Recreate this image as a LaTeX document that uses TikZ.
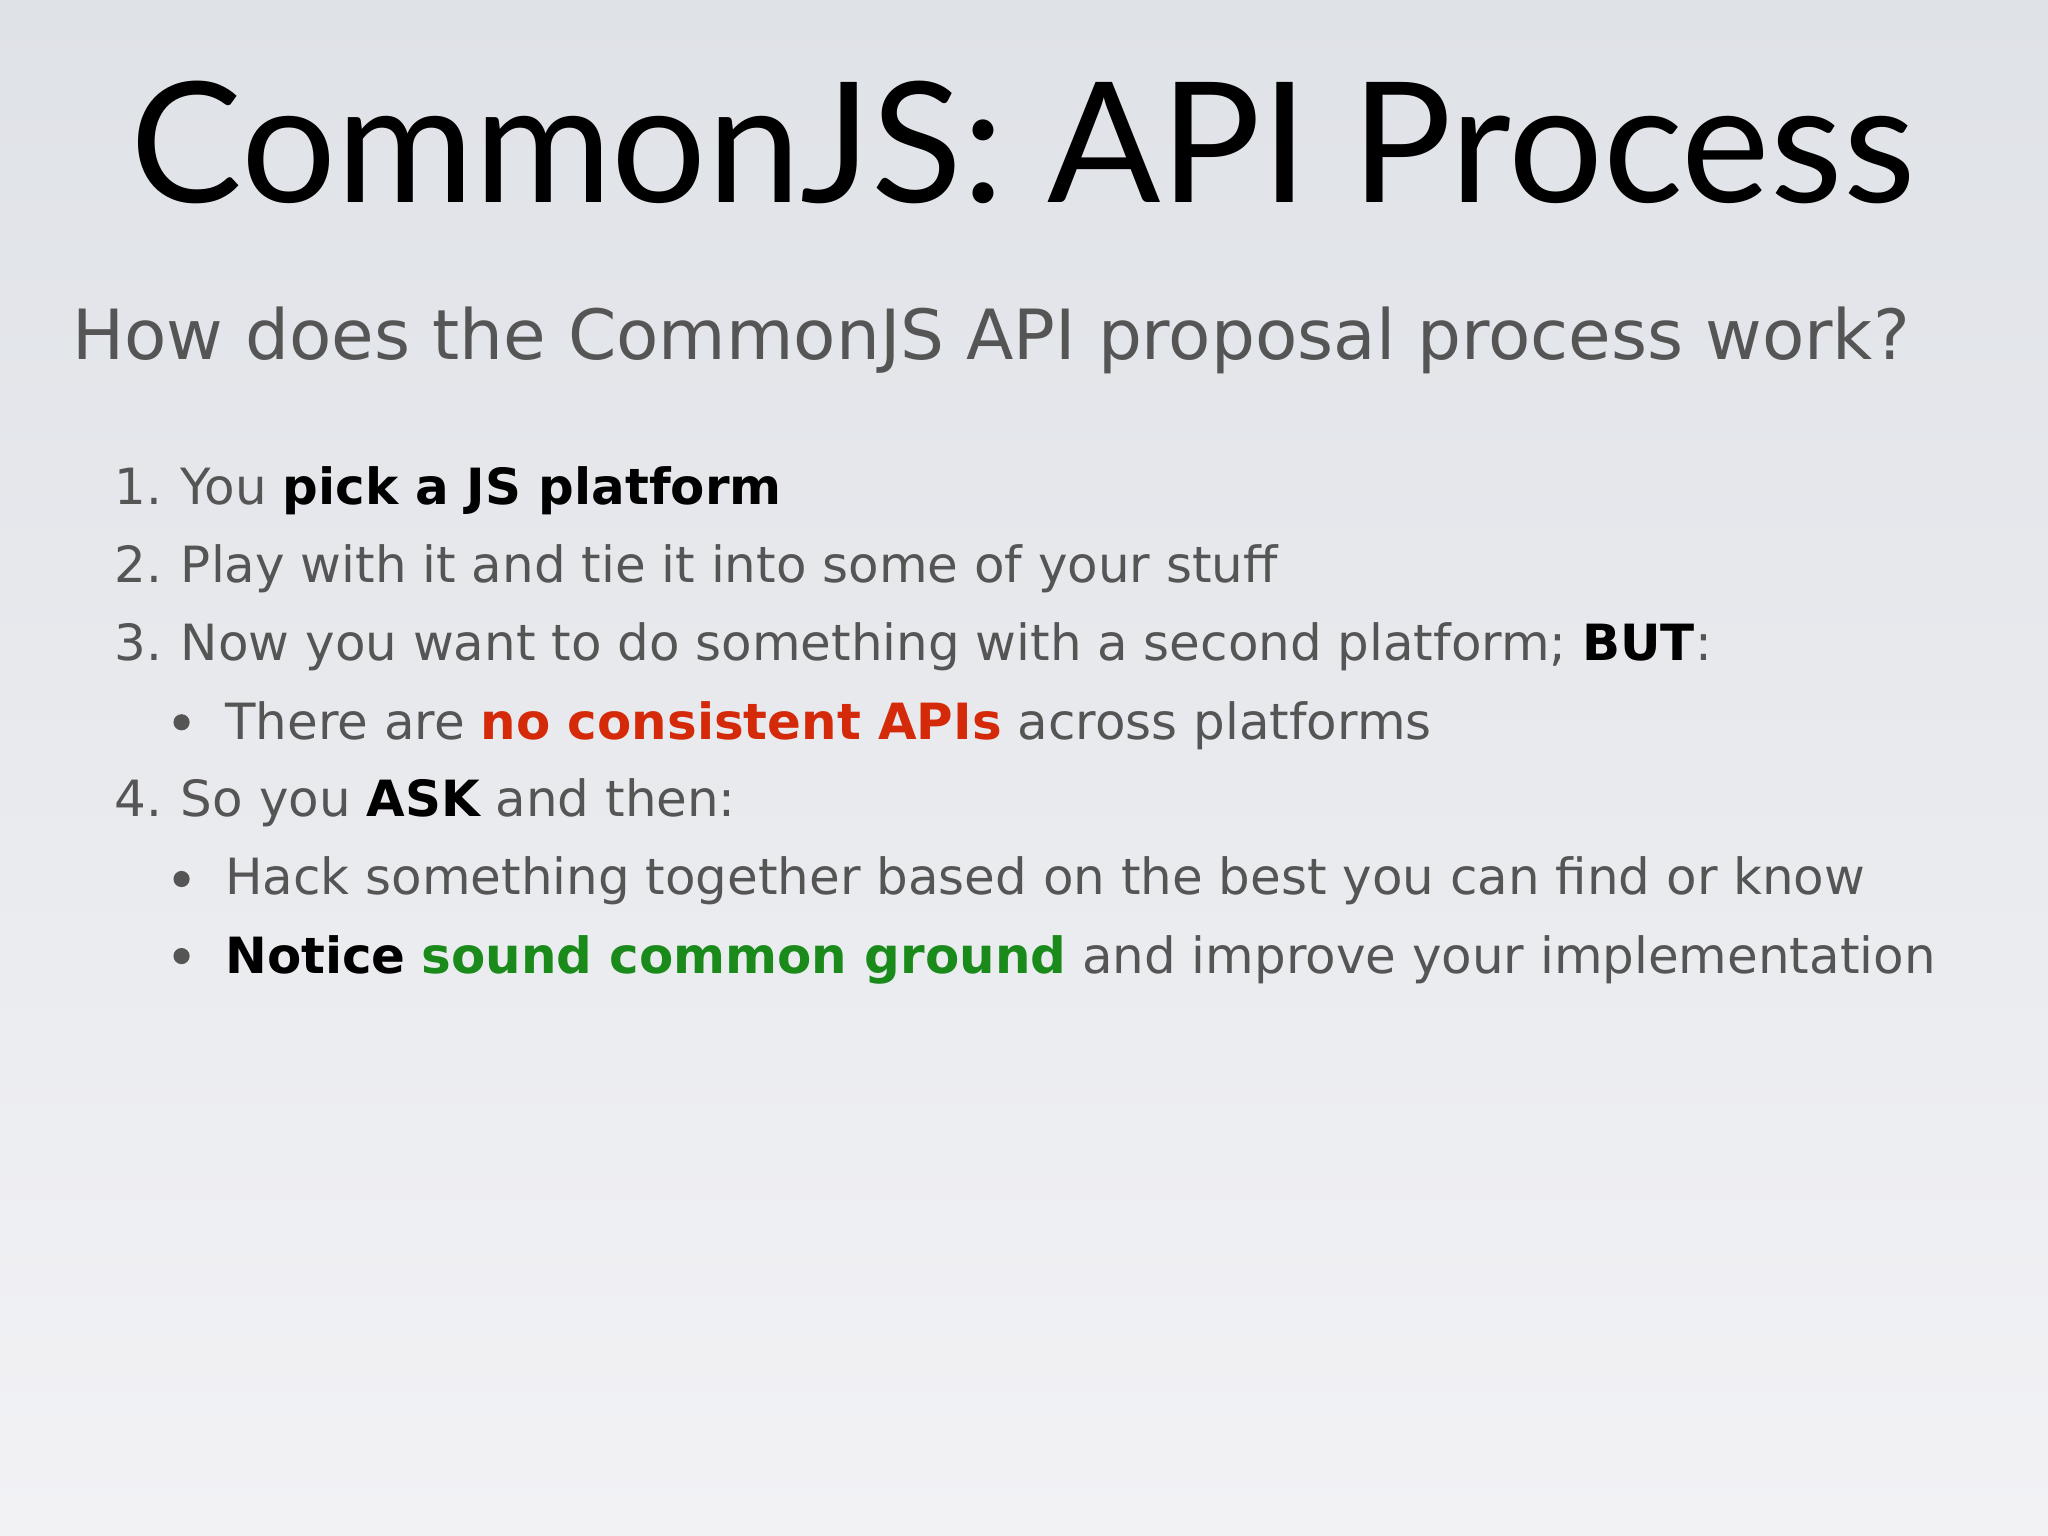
\documentclass[tikz,border=0pt]{standalone}
\usepackage{fontspec}
\setmainfont{DejaVu Sans}
\newfontfamily\titlefont{Lato}
\definecolor{txt}{HTML}{555555}
\definecolor{redt}{HTML}{D42A0A}
\definecolor{greent}{HTML}{1A8A1A}
\definecolor{bgtop}{HTML}{DFE2E7}
\definecolor{bgbot}{HTML}{F2F2F5}
\tikzset{
  item/.style={anchor=base west,inner sep=0pt,text=txt,font=\fontsize{14.2}{16}\selectfont},
  num/.style={anchor=base east,inner sep=0pt,text=txt,font=\fontsize{14.2}{16}\selectfont},
  bul/.style={circle,fill=txt,inner sep=0pt,minimum size=4.6pt}
}
\begin{document}
\begin{tikzpicture}[x=0.013061cm,y=-0.013061cm]
\shade[top color=bgtop,bottom color=bgbot] (0,0) rectangle (1568,1176);
\useasboundingbox (0,0) rectangle (1568,1176);
\node[anchor=base,inner sep=0pt,font=\titlefont\fontsize{47.7}{50}\selectfont] (title) at (783,155) {CommonJS: API Process};
\node[anchor=base west,inner sep=0pt,text=txt,font=\fontsize{19.7}{22}\selectfont] (sub) at (55,275) {How does the CommonJS API proposal process work?};
\node[num] (n1) at (125,386) {1.};
\node[item] (i1) at (138,386) {You \textbf{\color{black}pick a JS platform}};
\node[num] (n2) at (125,446) {2.};
\node[item] (i2) at (138,446) {Play with it and tie it into some of your stuff};
\node[num] (n3) at (125,506) {3.};
\node[item] (i3) at (138,506) {Now you want to do something with a second platform; \textbf{\color{black}BUT}:};
\node[bul] (b1) at (139,553) {};
\node[item] (i4) at (172,566) {There are \textbf{\color{redt}no consistent APIs} across platforms};
\node[num] (n4) at (125,625) {4.};
\node[item] (i5) at (138,625) {So you \textbf{\color{black}ASK} and then:};
\node[bul] (b2) at (139,673) {};
\node[item] (i6) at (172,685) {Hack something together based on the best you can find or know};
\node[bul] (b3) at (139,732) {};
\node[item] (i7) at (172,745) {\textbf{\color{black}Notice} \textbf{\color{greent}sound common ground} and improve your implementation};
\end{tikzpicture}
\end{document}
